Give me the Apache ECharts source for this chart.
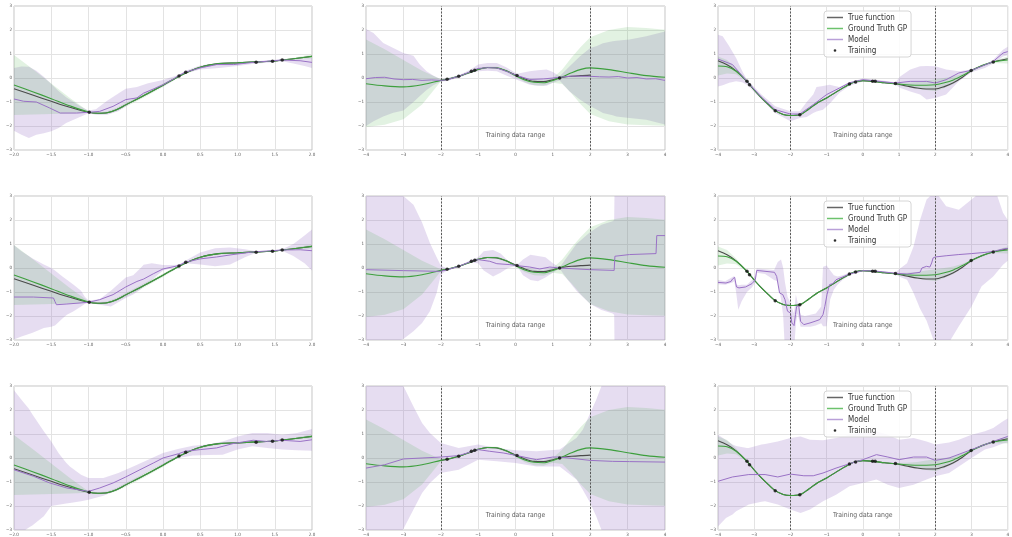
<!DOCTYPE html>
<html>
<head>
<meta charset="utf-8">
<script src="https://cdn.jsdelivr.net/npm/echarts@6/dist/echarts.min.js"></script>
<style>
  html, body { margin: 0; padding: 0; background: #ffffff; }
  #chart { width: 1012px; height: 537px; }
</style>
</head>
<body>
<div id="chart"></div>
<script>
// ---------- labels ----------
const LEGEND_NAMES = ['True function', 'Ground Truth GP', 'Model', 'Training'];
const RANGE_LABEL = 'Training data range';
const Y_TICKS = [-3, -2, -1, 0, 1, 2, 3];

// ---------- column 1: x in [-2, 2] ----------
const c1X      = [-2, -1.75, -1.5, -1.25, -1, -0.875, -0.75, -0.625, -0.5, -0.25, 0, 0.25, 0.5, 0.75, 1, 1.25, 1.5, 1.75, 2];
const c1True   = [-0.45, -0.71, -0.97, -1.22, -1.43, -1.47, -1.45, -1.32, -1.12, -0.72, -0.3, 0.13, 0.45, 0.6, 0.63, 0.67, 0.71, 0.8, 0.9];
const c1Gt     = [-0.29, -0.57, -0.86, -1.16, -1.42, -1.47, -1.45, -1.32, -1.12, -0.72, -0.3, 0.13, 0.45, 0.6, 0.63, 0.67, 0.71, 0.8, 0.9];
const c1GtHi   = [0.96, 0.37, -0.23, -0.83, -1.39, -1.43, -1.4, -1.25, -1.04, -0.64, -0.23, 0.17, 0.49, 0.64, 0.66, 0.69, 0.73, 0.84, 0.98];
const c1GtLo   = [-1.54, -1.52, -1.5, -1.48, -1.45, -1.51, -1.5, -1.39, -1.2, -0.8, -0.37, 0.09, 0.41, 0.56, 0.6, 0.65, 0.69, 0.76, 0.82];
const c1TrainX = [-0.99, 0.215, 0.305, 1.25, 1.47, 1.6];
const c1TrainY = [-1.43, 0.08, 0.24, 0.66, 0.7, 0.75];

// model, row 1
const m11X  = [-2, -1.87, -1.7, -1.52, -1.38, -1.16, -1.0, -0.85, -0.67, -0.5, -0.35, -0.26, -0.13, 0, 0.14, 0.21, 0.3, 0.5, 0.72, 0.95, 1.21, 1.6, 1.84, 2];
const m11Y  = [-0.875, -0.97, -1.0, -1.25, -1.46, -1.46, -1.43, -1.39, -1.18, -0.9, -0.83, -0.63, -0.46, -0.28, -0.04, 0.1, 0.24, 0.42, 0.56, 0.56, 0.65, 0.75, 0.72, 0.65];
const b11X  = [-2, -1.9, -1.8, -1.7, -1.6, -1.5, -1.4, -1.3, -1.2, -1.1, -1.0, -0.9, -0.75, -0.6, -0.5, -0.35, -0.2, 0, 0.1, 0.21, 0.3, 0.5, 0.75, 1.0, 1.25, 1.5, 1.6, 1.75, 1.9, 2];
const b11Hi = [0.42, 0.48, 0.47, 0.3, 0.05, -0.25, -0.55, -0.8, -1.0, -1.2, -1.35, -1.3, -0.95, -0.65, -0.45, -0.38, -0.22, -0.08, 0.02, 0.13, 0.3, 0.52, 0.64, 0.68, 0.7, 0.76, 0.78, 0.8, 0.82, 0.83];
const b11Lo = [-2.2, -2.36, -2.5, -2.36, -2.3, -2.22, -2.08, -1.87, -1.74, -1.6, -1.47, -1.53, -1.53, -1.39, -1.18, -0.9, -0.6, -0.35, -0.18, 0.06, 0.2, 0.35, 0.42, 0.5, 0.6, 0.66, 0.7, 0.6, 0.5, 0.42];

// model, row 2
const m12X  = [-2, -1.74, -1.47, -1.45, -1.43, -1.29, -1.0, -0.85, -0.67, -0.5, -0.35, -0.26, -0.13, 0, 0.21, 0.3, 0.5, 0.72, 0.94, 1.21, 1.6, 1.84, 2];
const m12Y  = [-1.21, -1.21, -1.25, -1.4, -1.53, -1.5, -1.43, -1.32, -1.11, -0.79, -0.56, -0.46, -0.24, -0.04, 0.1, 0.24, 0.38, 0.46, 0.56, 0.67, 0.75, 0.76, 0.72];
const b12X  = [-2, -1.9, -1.75, -1.6, -1.5, -1.45, -1.35, -1.29, -1.2, -1.1, -1.05, -1.0, -0.85, -0.7, -0.5, -0.4, -0.3, -0.26, -0.15, 0, 0.1, 0.21, 0.3, 0.5, 0.7, 0.9, 1.1, 1.25, 1.45, 1.6, 1.75, 1.9, 2];
const b12Hi = [0.95, 0.7, 0.4, 0.15, 0.0, -0.1, -0.35, -0.49, -0.7, -0.95, -1.2, -1.35, -1.3, -0.95, -0.4, -0.3, 0.0, 0.14, 0.2, 0.12, 0.12, 0.14, 0.3, 0.65, 0.82, 0.85, 0.78, 0.7, 0.72, 0.78, 1.0, 1.35, 1.6];
const b12Lo = [-2.98, -2.85, -2.7, -2.5, -2.45, -2.4, -2.1, -1.95, -1.8, -1.6, -1.5, -1.45, -1.53, -1.6, -1.25, -1.1, -0.9, -0.76, -0.5, -0.1, -0.02, 0.05, 0.2, 0.15, 0.07, 0.15, 0.45, 0.64, 0.68, 0.72, 0.5, 0.2, -0.1];

// model, row 3
const m13X  = [-2, -1.74, -1.52, -1.29, -1.0, -0.85, -0.67, -0.5, -0.31, -0.13, 0, 0.21, 0.3, 0.5, 0.72, 0.94, 1.21, 1.39, 1.6, 1.84, 2];
const m13Y  = [-0.49, -0.76, -1.04, -1.25, -1.39, -1.25, -1.04, -0.79, -0.49, -0.21, 0.0, 0.18, 0.28, 0.35, 0.42, 0.6, 0.74, 0.69, 0.74, 0.69, 0.76];
const b13X  = [-2, -1.9, -1.8, -1.75, -1.6, -1.5, -1.4, -1.3, -1.25, -1.1, -1.0, -0.8, -0.6, -0.4, -0.2, 0, 0.2, 0.4, 0.6, 0.8, 1.0, 1.2, 1.4, 1.6, 1.8, 2];
const b13Hi = [2.82, 2.43, 2.05, 1.8, 1.11, 0.69, 0.2, -0.2, -0.35, -0.7, -0.83, -0.83, -0.63, -0.35, -0.07, 0.21, 0.38, 0.51, 0.56, 0.69, 0.9, 1.04, 1.04, 0.97, 1.04, 1.21];
const b13Lo = [-3.5, -3.1, -2.9, -2.8, -2.43, -2.0, -1.95, -1.9, -1.88, -1.8, -1.74, -1.57, -1.32, -0.97, -0.56, -0.28, 0.0, 0.1, 0.12, 0.14, 0.35, 0.49, 0.42, 0.35, 0.32, 0.3];

// ---------- column 2: x in [-4, 4], true function known on [-2, 2] ----------
const c2TrueX  = [-2, -1.75, -1.5, -1.25, -1, -0.75, -0.5, -0.25, 0, 0.25, 0.5, 0.75, 1, 1.25, 1.5, 1.75, 2];
const c2True   = [-0.1, -0.03, 0.08, 0.22, 0.36, 0.44, 0.42, 0.3, 0.12, -0.04, -0.14, -0.15, -0.07, 0.02, 0.07, 0.1, 0.12];
const c2X      = [-4, -3.5, -3, -2.5, -2, -1.75, -1.5, -1.25, -1, -0.75, -0.5, -0.25, 0, 0.25, 0.5, 0.75, 1, 1.25, 1.5, 1.75, 2, 2.5, 3, 3.5, 4];
const c2Gt     = [-0.24, -0.33, -0.37, -0.28, -0.1, -0.02, 0.08, 0.22, 0.36, 0.44, 0.43, 0.3, 0.1, -0.08, -0.18, -0.2, -0.1, 0.05, 0.22, 0.36, 0.42, 0.35, 0.22, 0.1, 0.03];
const c2GtHi   = [1.6, 1.2, 0.75, 0.3, -0.05, 0.0, 0.1, 0.26, 0.4, 0.48, 0.47, 0.35, 0.14, 0.02, -0.06, -0.08, 0.0, 0.35, 0.85, 1.3, 1.7, 2.0, 2.12, 2.08, 2.01];
const c2GtLo   = [-2.04, -1.95, -1.72, -1.1, -0.15, -0.06, 0.05, 0.18, 0.32, 0.4, 0.39, 0.25, 0.06, -0.18, -0.3, -0.32, -0.2, -0.25, -0.65, -1.1, -1.5, -1.8, -1.94, -1.97, -1.99];
const c2TrainX = [-1.83, -1.52, -1.18, -1.09, 0.04, 1.18];
const c2TrainY = [-0.05, 0.07, 0.28, 0.32, 0.1, 0.0];

// model, row 1
const m21X  = [-4, -3.75, -3.5, -3.25, -3, -2.75, -2.5, -2.25, -2, -1.83, -1.52, -1.18, -1, -0.75, -0.5, -0.25, 0.04, 0.38, 0.74, 1.0, 1.18, 1.5, 2, 2.25, 2.5, 2.75, 3, 3.25, 3.5, 3.75, 4];
const m21Y  = [-0.03, 0.02, 0.03, -0.04, -0.07, -0.06, -0.1, -0.08, -0.1, -0.07, 0.07, 0.28, 0.4, 0.43, 0.42, 0.28, 0.1, -0.06, -0.04, 0.0, 0.03, 0.08, 0.07, 0.05, 0.04, 0.06, 0.0, 0.02, -0.04, -0.03, -0.1];
const b21X  = [-4, -3.8, -3.54, -3.27, -3.0, -2.73, -2.56, -2.38, -2.2, -2.0, -1.83, -1.5, -1.2, -1.0, -0.75, -0.5, -0.25, 0.04, 0.38, 0.6, 0.83, 1.0, 1.18, 1.45, 1.72, 2.0, 2.16, 2.34, 2.6, 2.7, 3.05, 3.5, 4];
const b21Hi = [2.04, 1.87, 1.46, 1.25, 1.04, 0.93, 0.56, 0.28, 0.1, -0.05, 0.0, 0.12, 0.35, 0.56, 0.62, 0.62, 0.45, 0.18, 0.28, 0.32, 0.35, 0.25, 0.07, 0.49, 0.9, 1.25, 1.32, 1.45, 1.53, 1.55, 1.6, 1.74, 1.94];
const b21Lo = [-2.0, -1.8, -1.6, -1.45, -1.35, -1.0, -0.75, -0.5, -0.3, -0.15, -0.12, 0.02, 0.2, 0.28, 0.3, 0.28, 0.1, -0.07, -0.28, -0.32, -0.32, -0.2, -0.1, -0.56, -0.9, -1.18, -1.3, -1.46, -1.55, -1.6, -1.67, -1.74, -1.94];

// model, row 2
const m22X  = [-4, -3, -2, -1.83, -1.52, -1.18, -1.0, -0.69, -0.5, -0.15, 0.04, 0.38, 0.65, 0.92, 1.18, 2.0, 2.64, 2.66, 3.05, 3.76, 3.78, 4];
const m22Y  = [-0.07, -0.11, -0.14, -0.07, 0.07, 0.28, 0.35, 0.28, 0.18, 0.14, 0.1, 0.04, -0.04, 0.04, 0.0, -0.07, -0.1, 0.49, 0.56, 0.6, 1.35, 1.35];
const b22X  = [-4, -3.5, -3.25, -3, -2.73, -2.5, -2.29, -2.11, -2, -1.83, -1.5, -1.2, -1.0, -0.85, -0.6, -0.4, -0.2, 0.04, 0.2, 0.4, 0.6, 0.8, 1.0, 1.18, 1.4, 1.63, 2.0, 2.3, 2.6, 2.64, 2.66, 4];
const b22Hi = [4.5, 3.8, 3.3, 3.0, 2.64, 1.9, 1.04, 0.45, 0.1, -0.02, 0.1, 0.32, 0.45, 0.7, 0.75, 0.6, 0.3, 0.12, 0.35, 0.55, 0.5, 0.45, 0.2, 0.02, 0.5, 1.0, 1.5, 1.8, 1.95, 2.0, 4.5, 4.5];
const b22Lo = [-3.5, -3.2, -3.1, -2.96, -2.64, -2.29, -1.8, -1.04, -0.28, -0.1, 0.04, 0.22, 0.2, -0.1, -0.35, -0.2, 0.0, 0.08, -0.3, -0.5, -0.55, -0.4, -0.2, -0.02, -0.5, -0.95, -1.5, -1.75, -1.9, -1.95, -4.5, -4.5];

// model, row 3
const m23X  = [-4, -3.5, -3, -2.5, -2, -1.52, -1, -0.69, -0.33, 0.04, 0.56, 1, 1.18, 2, 2.6, 3.05, 4];
const m23Y  = [-0.42, -0.28, -0.04, 0.0, 0.04, 0.1, 0.35, 0.28, 0.21, 0.1, -0.07, 0.04, 0.04, -0.1, -0.14, -0.15, -0.17];
const b23X  = [-4, -3.5, -3, -2.73, -2.5, -2.29, -2, -1.52, -1, -0.5, 0, 0.56, 1.18, 1.63, 1.8, 2, 2.16, 2.3, 2.5, 4];
const b23Hi = [5.5, 4.0, 3.0, 2.15, 1.46, 1.04, 0.62, 0.42, 0.56, 0.42, 0.32, 0.28, 0.35, 0.83, 1.18, 1.875, 2.43, 3.0, 3.7, 6];
const b23Lo = [-5.5, -4.0, -2.96, -2.15, -1.46, -1.04, -0.62, -0.49, -0.07, -0.14, -0.21, -0.35, -0.35, -0.9, -1.32, -1.875, -2.43, -3.0, -3.7, -6];

// ---------- column 3: x in [-4, 4] ----------
const c3X      = [-4, -3.75, -3.5, -3.2, -3, -2.8, -2.6, -2.42, -2.2, -2, -1.74, -1.5, -1.25, -1, -0.75, -0.5, -0.25, 0, 0.3, 0.6, 0.9, 1.2, 1.5, 1.75, 2, 2.25, 2.5, 2.75, 3, 3.3, 3.6, 4];
const c3True   = [0.72, 0.55, 0.3, -0.14, -0.5, -0.83, -1.12, -1.36, -1.52, -1.56, -1.53, -1.3, -1.03, -0.83, -0.6, -0.37, -0.18, -0.11, -0.14, -0.2, -0.24, -0.33, -0.42, -0.46, -0.46, -0.36, -0.2, 0.03, 0.31, 0.52, 0.67, 0.8];
const c3Gt     = [0.5, 0.47, 0.28, -0.14, -0.5, -0.83, -1.12, -1.36, -1.52, -1.56, -1.53, -1.3, -1.03, -0.83, -0.6, -0.37, -0.18, -0.11, -0.14, -0.2, -0.24, -0.28, -0.3, -0.3, -0.28, -0.2, -0.08, 0.1, 0.31, 0.52, 0.67, 0.75];
const c3GtHi   = [0.9, 0.75, 0.4, -0.11, -0.47, -0.8, -1.09, -1.33, -1.49, -1.53, -1.5, -1.26, -0.99, -0.8, -0.57, -0.34, -0.15, -0.08, -0.11, -0.16, -0.21, -0.2, -0.17, -0.1, -0.05, 0.0, 0.06, 0.18, 0.34, 0.57, 0.71, 0.9];
const c3GtLo   = [0.1, 0.19, 0.16, -0.17, -0.53, -0.86, -1.15, -1.39, -1.55, -1.59, -1.56, -1.34, -1.07, -0.86, -0.63, -0.4, -0.21, -0.14, -0.17, -0.23, -0.27, -0.36, -0.45, -0.5, -0.55, -0.42, -0.25, 0.02, 0.28, 0.47, 0.63, 0.6];
const c3TrainX = [-3.2, -3.13, -2.42, -1.74, -0.37, -0.2, 0.27, 0.34, 0.9, 2.99, 3.6];
const c3TrainY = [-0.14, -0.28, -1.36, -1.53, -0.25, -0.17, -0.14, -0.14, -0.23, 0.31, 0.67];

// model, row 1
const m31X  = [-4, -3.6, -3.2, -2.8, -2.42, -2, -1.74, -1.37, -1, -0.65, -0.37, 0, 0.34, 0.9, 1.31, 1.76, 2, 2.3, 2.65, 3, 3.3, 3.6, 3.87, 4];
const m31Y  = [0.79, 0.56, -0.14, -0.8, -1.32, -1.5, -1.5, -1.11, -0.69, -0.42, -0.2, -0.07, -0.12, -0.21, -0.14, -0.14, -0.21, -0.07, 0.21, 0.32, 0.5, 0.69, 1.04, 1.1];
const b31X  = [-4, -3.87, -3.69, -3.5, -3.33, -3.2, -2.8, -2.42, -2, -1.74, -1.55, -1.37, -1.28, -1.1, -0.92, -0.65, -0.37, 0, 0.42, 0.9, 1.04, 1.31, 1.58, 1.76, 2, 2.3, 2.65, 3, 3.37, 3.6, 3.87, 4];
const b31Hi = [1.8, 1.74, 1.32, 0.83, 0.28, -0.07, -0.69, -1.18, -1.39, -1.39, -1.0, -0.69, -0.375, -0.33, -0.28, -0.38, -0.18, -0.02, -0.08, -0.18, 0.07, 0.35, 0.49, 0.5, 0.49, 0.35, 0.28, 0.35, 0.55, 0.76, 1.18, 1.3];
const b31Lo = [-0.35, -0.3, -0.2, -0.14, -0.18, -0.28, -0.9, -1.46, -1.8, -1.67, -1.62, -1.46, -1.4, -1.32, -1.07, -0.62, -0.32, -0.15, -0.17, -0.28, -0.42, -0.56, -0.69, -0.9, -0.83, -0.69, -0.14, 0.24, 0.42, 0.6, 0.9, 0.95];

// model, row 2
const m32X  = [-4, -3.78, -3.64, -3.6, -3.54, -3.49, -3.42, -3.24, -3.06, -2.97, -2.93, -2.88, -2.44, -2.38, -2.3, -2.21, -2.15, -2.08, -2.0, -1.96, -1.9, -1.86, -1.83, -1.77, -1.72, -1.63, -1.46, -1.32, -1.19, -1.1, -1.05, -0.99, -0.92, -0.83, -0.74, -0.56, -0.37, 0, 0.34, 0.9, 1.22, 1.58, 1.63, 1.76, 1.85, 1.9, 1.94, 2.0, 2.3, 2.65, 3, 3.37, 3.6, 3.87, 4];
const m32Y  = [-0.6, -0.625, -0.56, -0.46, -0.39, -0.79, -0.83, -0.79, -0.65, -0.49, -0.1, -0.1, -0.18, -0.35, -1.04, -1.11, -1.32, -1.8, -1.875, -2.29, -2.4, -1.94, -1.6, -1.57, -2.22, -2.36, -2.29, -2.22, -2.15, -1.94, -1.6, -1.11, -0.69, -0.65, -0.49, -0.375, -0.25, -0.11, -0.125, -0.22, -0.25, -0.18, 0.0, 0.07, 0.04, 0.21, 0.42, 0.46, 0.51, 0.56, 0.6, 0.65, 0.69, 0.79, 0.82];
const b32X  = [-4, -3.8, -3.6, -3.55, -3.5, -3.44, -3.35, -3.2, -3.06, -2.97, -2.93, -2.7, -2.45, -2.35, -2.26, -2.2, -2.15, -2.08, -2.0, -1.95, -1.9, -1.85, -1.8, -1.72, -1.6, -1.45, -1.3, -1.15, -1.1, -1.0, -0.9, -0.8, -0.7, -0.56, -0.37, 0, 0.9, 1.0, 1.22, 1.4, 1.58, 1.76, 2.0, 2.3, 2.65, 3.0, 3.28, 3.6, 3.87, 4];
const b32Hi = [-0.5, -0.55, -0.38, -0.33, -0.68, -0.72, -0.7, -0.7, -0.5, -0.3, -0.02, -0.05, -0.08, 0.25, 0.35, 0.0, -0.6, -1.2, -1.45, -1.7, -1.9, -1.1, -1.45, -1.95, -2.0, -1.95, -1.9, -1.6, 0.05, 0.1, -0.1, -0.3, -0.35, -0.3, -0.2, -0.08, -0.18, -0.05, 0.2, 0.9, 2.0, 2.85, 3.2, 2.57, 2.43, 2.85, 3.2, 3.5, 2.3, 2.0];
const b32Lo = [-0.68, -0.7, -0.6, -0.55, -1.0, -1.74, -1.4, -1.0, -0.8, -0.6, -0.2, -0.25, -0.5, -0.55, -1.3, -2.0, -3.5, -3.5, -3.5, -3.5, -3.5, -2.3, -1.9, -2.45, -2.45, -2.45, -2.4, -2.3, -2.43, -2.43, -1.3, -0.9, -0.7, -0.5, -0.3, -0.14, -0.26, -0.35, -0.49, -1.04, -1.7, -2.2, -3.2, -3.3, -2.43, -1.6, -0.76, -0.35, 0.14, 0.3];

// model, row 3
const m33X  = [-4, -3.6, -3.15, -2.7, -2.35, -2, -1.63, -1.37, -1.1, -0.74, -0.37, 0, 0.375, 0.69, 1, 1.4, 1.76, 2, 2.38, 3, 3.6, 3.87, 4];
const m33Y  = [-0.97, -0.79, -0.69, -0.69, -0.79, -0.67, -0.74, -0.74, -0.625, -0.42, -0.24, -0.07, 0.14, 0.04, -0.07, 0.04, 0.04, -0.1, 0.0, 0.35, 0.69, 0.83, 0.9];
const b33X  = [-4, -3.78, -3.6, -3.5, -3.2, -3.15, -2.8, -2.7, -2.35, -2, -1.72, -1.46, -1.1, -0.74, -0.37, 0, 0.375, 0.69, 1, 1.4, 1.76, 2, 2.38, 2.65, 3, 3.37, 3.6, 3.87, 4];
const b33Hi = [0.97, 0.75, 0.56, 0.5, 0.42, 0.42, 0.56, 0.58, 0.69, 0.83, 0.9, 0.76, 0.74, 0.83, 0.97, 1.04, 1.11, 0.97, 0.76, 0.83, 0.69, 0.56, 0.65, 0.76, 0.97, 1.11, 1.25, 1.53, 1.65];
const b33Lo = [-2.85, -2.5, -2.35, -2.22, -1.98, -1.94, -1.82, -1.8, -1.94, -2.15, -2.29, -2.15, -1.8, -1.53, -1.18, -1.04, -0.9, -1.11, -1.25, -1.11, -0.9, -0.76, -0.625, -0.35, 0.0, 0.35, 0.45, 0.6, 0.65];

// ---------- styling ----------
const COLOR_TRUE  = '#4a4a4a';
const COLOR_GT    = '#3d9f3d';
const COLOR_MODEL = '#9a72c6';
const COLOR_TRAIN = '#111111';
const FILL_GT     = 'rgba(60,165,60,0.15)';
const FILL_MODEL  = 'rgba(140,100,190,0.22)';
const FONT = "'DejaVu Sans Condensed', 'DejaVu Sans', sans-serif";

const colGeom = [{ left: 14, width: 298 }, { left: 366, width: 299 }, { left: 718, width: 299 }];
const rowGeom = [{ top: 6, height: 144 }, { top: 196, height: 144 }, { top: 386, height: 144 }];

const columns = [
  { min: -2, max: 2, step: 0.5, decimals: 1, range: false,
    trueX: c1X, trueY: c1True, gtX: c1X, gt: c1Gt, gtLo: c1GtLo, gtHi: c1GtHi, trX: c1TrainX, trY: c1TrainY,
    models: [
      { x: m11X, y: m11Y, bx: b11X, lo: b11Lo, hi: b11Hi },
      { x: m12X, y: m12Y, bx: b12X, lo: b12Lo, hi: b12Hi },
      { x: m13X, y: m13Y, bx: b13X, lo: b13Lo, hi: b13Hi }
    ] },
  { min: -4, max: 4, step: 1, decimals: 0, range: true,
    trueX: c2TrueX, trueY: c2True, gtX: c2X, gt: c2Gt, gtLo: c2GtLo, gtHi: c2GtHi, trX: c2TrainX, trY: c2TrainY,
    models: [
      { x: m21X, y: m21Y, bx: b21X, lo: b21Lo, hi: b21Hi },
      { x: m22X, y: m22Y, bx: b22X, lo: b22Lo, hi: b22Hi },
      { x: m23X, y: m23Y, bx: b23X, lo: b23Lo, hi: b23Hi }
    ] },
  { min: -4, max: 4, step: 1, decimals: 0, range: true,
    trueX: c3X, trueY: c3True, gtX: c3X, gt: c3Gt, gtLo: c3GtLo, gtHi: c3GtHi, trX: c3TrainX, trY: c3TrainY,
    models: [
      { x: m31X, y: m31Y, bx: b31X, lo: b31Lo, hi: b31Hi },
      { x: m32X, y: m32Y, bx: b32X, lo: b32Lo, hi: b32Hi },
      { x: m33X, y: m33Y, bx: b33X, lo: b33Lo, hi: b33Hi }
    ] }
];

const pairs = (xs, ys) => xs.map((x, i) => [x, ys[i]]);
const minus = s => String(s).replace('-', '\u2212');

// filled band between lower and upper curves, projected through the panel's axes
function band(idx, xs, lo, hi, fill, z) {
  return {
    type: 'custom', xAxisIndex: idx, yAxisIndex: idx, clip: true, silent: true, z: z,
    data: [[xs[0], lo[0]]],
    renderItem: (params, api) => {
      const pts = [];
      for (let i = 0; i < xs.length; i++) pts.push(api.coord([xs[i], hi[i]]));
      for (let i = xs.length - 1; i >= 0; i--) pts.push(api.coord([xs[i], lo[i]]));
      return { type: 'polygon', shape: { points: pts }, style: { fill: fill } };
    }
  };
}

function line(idx, name, xs, ys, color, width, z, smooth) {
  return {
    type: 'line', name: name, xAxisIndex: idx, yAxisIndex: idx, data: pairs(xs, ys),
    showSymbol: false, symbol: 'none', smooth: smooth, clip: true, z: z, silent: true,
    color: color, lineStyle: { color: color, width: width }, itemStyle: { color: color }
  };
}

const grid = [], xAxis = [], yAxis = [], series = [];
let idx = 0;
rowGeom.forEach((rg, r) => {
  columns.forEach((col, c) => {
    const cg = colGeom[c];
    grid.push({ left: cg.left, width: cg.width, top: rg.top, height: rg.height,
      show: true, borderColor: '#c4c4c4', borderWidth: 1, backgroundColor: '#ffffff' });
    xAxis.push({
      type: 'value', gridIndex: idx, min: col.min, max: col.max, interval: col.step,
      axisLine: { show: false }, axisTick: { show: false },
      splitLine: { show: true, lineStyle: { color: '#e3e3e3', width: 1 } },
      axisLabel: { fontSize: 4.5, color: '#555', margin: 2, fontFamily: FONT,
        formatter: v => minus(col.decimals ? v.toFixed(col.decimals) : v) }
    });
    yAxis.push({
      type: 'value', gridIndex: idx, min: -3, max: 3, interval: 1,
      axisLine: { show: false }, axisTick: { show: false },
      splitLine: { show: true, lineStyle: { color: '#e3e3e3', width: 1 } },
      axisLabel: { fontSize: 4.5, color: '#555', margin: 2, fontFamily: FONT,
        customValues: Y_TICKS, formatter: v => minus(v) }
    });

    const m = col.models[r];
    series.push(band(idx, m.bx, m.lo, m.hi, FILL_MODEL, 1));
    series.push(band(idx, col.gtX, col.gtLo, col.gtHi, FILL_GT, 2));

    const truth = line(idx, 'True function', col.trueX, col.trueY, COLOR_TRUE, 1.1, 3, 0.3);
    if (col.range) {
      // borders of the interval that holds the training inputs
      truth.markLine = {
        symbol: 'none', silent: true, label: { show: false }, z: 8,
        lineStyle: { type: [2, 1.5], color: '#5a5a5a', width: 1 },
        data: [{ xAxis: -2 }, { xAxis: 2 }]
      };
    }
    series.push(truth);
    series.push(line(idx, 'Ground Truth GP', col.gtX, col.gt, COLOR_GT, 1.1, 4, 0.3));
    series.push(line(idx, 'Model', m.x, m.y, COLOR_MODEL, 1, 5, false));
    series.push({
      type: 'scatter', name: 'Training', xAxisIndex: idx, yAxisIndex: idx,
      data: pairs(col.trX, col.trY), symbolSize: 3.5, z: 6, silent: true,
      color: COLOR_TRAIN, itemStyle: { color: COLOR_TRAIN }
    });
    if (col.range) {
      series.push({
        type: 'scatter', xAxisIndex: idx, yAxisIndex: idx, data: [[0, -2.4]],
        symbolSize: 1, itemStyle: { color: 'rgba(0,0,0,0)' }, silent: true, z: 7,
        label: { show: true, position: 'inside', formatter: RANGE_LABEL,
          fontSize: 6.8, color: '#333', fontFamily: FONT }
      });
    }
    idx++;
  });
});

const legend = rowGeom.map(rg => ({
  left: 824, top: rg.top + 5, orient: 'vertical', selectedMode: false,
  itemWidth: 16, itemHeight: 1.5, itemGap: 2,
  padding: [2, 4, 2, 3], borderColor: '#d6d6d6', borderWidth: 1, borderRadius: 3,
  backgroundColor: 'rgba(255,255,255,0.85)',
  textStyle: { fontSize: 8, lineHeight: 9, color: '#333', fontFamily: FONT },
  data: [
    { name: LEGEND_NAMES[0], icon: 'rect', itemStyle: { color: '#666' } },
    { name: LEGEND_NAMES[1], icon: 'rect', itemStyle: { color: '#6cc26c' } },
    { name: LEGEND_NAMES[2], icon: 'rect', itemStyle: { color: '#b9a0d8' } },
    { name: LEGEND_NAMES[3], icon: 'circle',
      itemStyle: { color: COLOR_TRAIN, borderColor: COLOR_TRAIN, borderWidth: 1.2 } }
  ]
}));

const chart = echarts.init(document.getElementById('chart'), null, { renderer: 'canvas' });
chart.setOption({
  animation: false,
  backgroundColor: '#ffffff',
  grid, xAxis, yAxis, legend, series
});
</script>
</body>
</html>
